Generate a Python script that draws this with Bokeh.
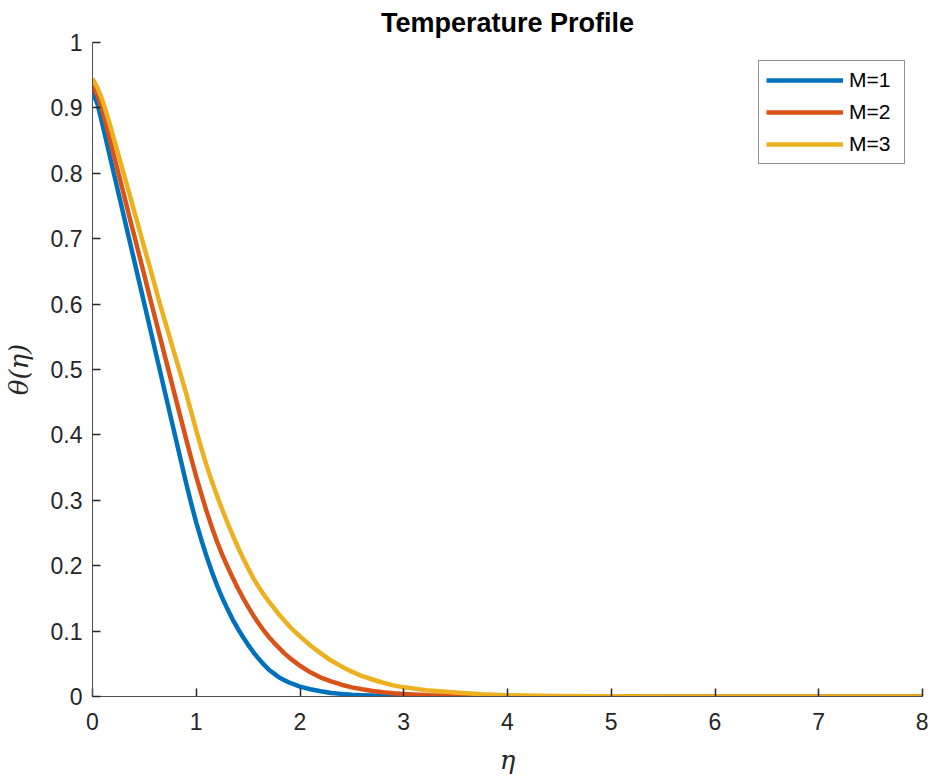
from bokeh.plotting import figure
from bokeh.models import FixedTicker, Legend, LegendItem, Range1d
from bokeh.embed import file_html
from bokeh.resources import INLINE

# ---- data ----
eta = [0.00, 0.05, 0.10, 0.15, 0.20, 0.25, 0.30, 0.35, 0.40, 0.45,
       0.50, 0.55, 0.60, 0.65, 0.70, 0.75, 0.80, 0.85, 0.90, 0.95,
       1.00, 1.05, 1.10, 1.15, 1.20, 1.25, 1.30, 1.35, 1.40, 1.45,
       1.50, 1.55, 1.60, 1.65, 1.70, 1.75, 1.80, 1.85, 1.90, 1.95,
       2.00, 2.10, 2.20, 2.30, 2.40, 2.50, 2.60, 2.70, 2.80, 2.90,
       3.00, 3.25, 3.50, 3.75, 4.00, 4.50, 5.00, 5.50, 6.00, 7.00,
       8.00]
theta_m1 = [0.925, 0.905, 0.872, 0.838, 0.804, 0.770, 0.736, 0.702, 0.668, 0.634,
            0.600, 0.566, 0.532, 0.498, 0.464, 0.430, 0.396, 0.362, 0.328, 0.296,
            0.266, 0.239, 0.214, 0.191, 0.170, 0.151, 0.134, 0.118, 0.104, 0.091,
            0.079, 0.068, 0.058, 0.049, 0.041, 0.035, 0.029, 0.025, 0.021, 0.018,
            0.015, 0.011, 0.008, 0.0055, 0.004, 0.0028, 0.002, 0.0014, 0.001, 0.0007,
            0.0005, 0.0002, 0.0001, 0.0, 0.0, 0.0, 0.0, 0.0, 0.0, 0.0,
            0.0]
theta_m2 = [0.935, 0.919, 0.894, 0.863, 0.831, 0.800, 0.769, 0.737, 0.706, 0.675,
            0.644, 0.612, 0.581, 0.550, 0.519, 0.488, 0.457, 0.426, 0.395, 0.365,
            0.336, 0.309, 0.283, 0.259, 0.237, 0.217, 0.199, 0.182, 0.166, 0.151,
            0.137, 0.124, 0.112, 0.101, 0.091, 0.082, 0.074, 0.066, 0.059, 0.053,
            0.047, 0.037, 0.029, 0.023, 0.018, 0.014, 0.011, 0.0085, 0.0065, 0.005,
            0.004, 0.002, 0.001, 0.0006, 0.0003, 0.0001, 0.0, 0.0, 0.0, 0.0,
            0.0]
theta_m3 = [0.945, 0.930, 0.910, 0.884, 0.856, 0.828, 0.800, 0.772, 0.743, 0.715,
            0.686, 0.658, 0.629, 0.600, 0.573, 0.546, 0.519, 0.492, 0.465, 0.436,
            0.407, 0.379, 0.353, 0.329, 0.307, 0.286, 0.266, 0.247, 0.229, 0.212,
            0.196, 0.181, 0.168, 0.156, 0.145, 0.135, 0.125, 0.116, 0.107, 0.099,
            0.092, 0.078, 0.066, 0.055, 0.046, 0.038, 0.031, 0.026, 0.021, 0.017,
            0.014, 0.009, 0.006, 0.0035, 0.002, 0.0008, 0.0003, 0.0001, 0.0, 0.0,
            0.0]
series_labels = ["M=1", "M=2", "M=3"]
series_colors = ["#0072BD", "#D95319", "#EDB120"]

x_ticks = [0, 1, 2, 3, 4, 5, 6, 7, 8]
y_ticks = [0, 0.1, 0.2, 0.3, 0.4, 0.5, 0.6, 0.7, 0.8, 0.9, 1]
y_tick_labels = ["0", "0.1", "0.2", "0.3", "0.4", "0.5", "0.6", "0.7", "0.8", "0.9", "1"]

TXT = "#262626"
FONT = "Liberation Sans"

p = figure(width=922, height=762, output_backend="svg", toolbar_location=None,
           x_range=Range1d(0, 8), y_range=Range1d(0, 1),
           min_border_left=86, min_border_right=6, min_border_top=33,
           min_border_bottom=75)
p.frame_width = 830
p.frame_height = 654
p.outline_line_color = None
p.grid.visible = False
p.background_fill_color = "white"
p.border_fill_color = "white"

p.title.text = "Temperature Profile"
p.title.align = "center"
p.title.text_font = FONT
p.title.text_font_size = "27px"
p.title.text_font_style = "bold"
p.title.text_color = "black"

for ax in (p.xaxis[0], p.yaxis[0]):
    ax.major_tick_in = 8
    ax.major_tick_out = 0
    ax.minor_tick_line_color = None
    ax.major_tick_line_color = TXT
    ax.major_tick_line_width = 1.5
    ax.axis_line_color = "#505050"
    ax.axis_line_width = 1
    ax.major_label_text_font = FONT
    ax.major_label_text_font_size = "23px"
    ax.major_label_text_color = TXT
    ax.axis_label_text_font = "DejaVu Serif"
    ax.axis_label_text_font_style = "italic"
    ax.axis_label_text_font_size = "26px"
    ax.axis_label_text_color = TXT

p.xaxis.ticker = FixedTicker(ticks=x_ticks)
p.yaxis.ticker = FixedTicker(ticks=y_ticks)
p.yaxis.major_label_overrides = dict(zip(y_ticks, y_tick_labels))
p.xaxis.major_label_standoff = 16
p.yaxis.major_label_standoff = 10
p.xaxis.axis_label = "η"
p.yaxis.axis_label = "θ(η)"
p.xaxis.axis_label_standoff = 12
p.yaxis.axis_label_standoff = 14

renderers = []
for ys, c in zip([theta_m1, theta_m2, theta_m3], series_colors):
    r = p.line(eta, ys, line_color=c, line_width=4.5, line_join="round")
    renderers.append(r)

legend = Legend(items=[LegendItem(label=l, renderers=[r]) for l, r in zip(series_labels, renderers)],
                location=(666, 532))
legend.label_text_font = FONT
legend.label_text_font_size = "21px"
legend.label_text_color = "black"
legend.glyph_width = 77
legend.glyph_height = 20
legend.label_height = 20
legend.label_width = 48
legend.spacing = 8
legend.padding = 7
legend.margin = 0
legend.label_standoff = 6
legend.border_line_color = TXT
legend.border_line_width = 1
legend.background_fill_color = "white"
legend.background_fill_alpha = 1
p.add_layout(legend)

open("out.html", "w").write(file_html(p, INLINE))
